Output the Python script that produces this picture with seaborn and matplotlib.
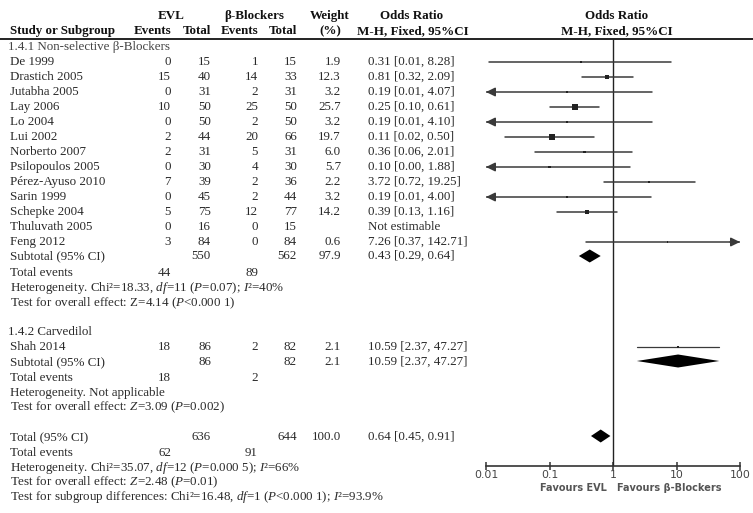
import numpy as np
import pandas as pd
import matplotlib
matplotlib.use('Agg')
import matplotlib.pyplot as plt
import seaborn as sns

sns.set_theme(style='white')
plt.rcParams.update({
    'font.family': ['Liberation Serif', 'DejaVu Serif'],
    'mathtext.fontset': 'custom',
    'mathtext.rm': 'Liberation Serif',
    'mathtext.it': 'Liberation Serif:italic',
    'mathtext.bf': 'Liberation Serif:bold',
})

# ---- data ----
studies = ['De 1999', 'Drastich 2005', 'Jutabha 2005', 'Lay 2006', 'Lo 2004', 'Lui 2002',
           'Norberto 2007', 'Psilopoulos 2005', 'Pérez-Ayuso 2010', 'Sarin 1999',
           'Schepke 2004', 'Thuluvath 2005', 'Feng 2012']
evl_events = [0, 15, 0, 10, 0, 2, 2, 0, 7, 0, 5, 0, 3]
evl_total = [15, 40, 31, 50, 50, 44, 31, 30, 39, 45, 75, 16, 84]
bb_events = [1, 14, 2, 25, 2, 20, 5, 4, 2, 2, 12, 0, 0]
bb_total = [15, 33, 31, 50, 50, 66, 31, 30, 36, 44, 77, 15, 84]
weights = [1.9, 12.3, 3.2, 25.7, 3.2, 19.7, 6.0, 5.7, 2.2, 3.2, 14.2, np.nan, 0.6]
odds = [0.31, 0.81, 0.19, 0.25, 0.19, 0.11, 0.36, 0.10, 3.72, 0.19, 0.39, np.nan, 7.26]
ci_low = [0.01, 0.32, 0.01, 0.10, 0.01, 0.02, 0.06, 0.00, 0.72, 0.01, 0.13, np.nan, 0.37]
ci_high = [8.28, 2.09, 4.07, 0.61, 4.10, 0.50, 2.01, 1.88, 19.25, 4.00, 1.16, np.nan, 142.71]
# lower ends as drawn (the rounded 0.01 ones that run off the left edge)
ci_low_drawn = [0.011, 0.32, 0.009, 0.10, 0.009, 0.02, 0.06, 0.004, 0.72, 0.009, 0.13, np.nan, 0.37]

sub1 = dict(evl_total=550, bb_total=562, weight=97.9, odds=0.43, lo=0.29, hi=0.64,
            evl_ev=44, bb_ev=89)
shah = dict(name='Shah 2014', evl_ev=18, evl_total=86, bb_ev=2, bb_total=82, weight=2.1,
            odds=10.59, lo=2.37, hi=47.27)
sub2 = dict(evl_total=86, bb_total=82, weight=2.1, odds=10.59, lo=2.37, hi=47.27,
            evl_ev=18, bb_ev=2)
total = dict(evl_total=636, bb_total=644, weight=100.0, odds=0.64, lo=0.45, hi=0.91,
             evl_ev=62, bb_ev=91)
xticks = [0.01, 0.1, 1, 10, 100]
xtick_labels = ['0.01', '0.1', '1', '10', '100']

df = pd.DataFrame({'study': studies, 'evl_ev': evl_events, 'evl_tot': evl_total,
                   'bb_ev': bb_events, 'bb_tot': bb_total, 'w': weights,
                   'or': odds, 'lo': ci_low, 'hi': ci_high, 'lo_d': ci_low_drawn})

# ---- layout (pixels) ----
W, H = 753, 513
row0, step = 62, 15
df['y'] = row0 + step * np.arange(len(df))
x_ev1, x_tot1, x_ev2, x_tot2, x_w, x_or = 171, 211, 258, 297, 341, 368
txt = '#2a2a2a'
fs = 9.4

fig = plt.figure(figsize=(W / 100, H / 100), dpi=100)
at = fig.add_axes([0, 0, 1, 1])
at.set_xlim(0, W)
at.set_ylim(H, 0)
at.axis('off')


def t(x, y, s, ha='left', **kw):
    kw.setdefault('color', txt)
    kw.setdefault('fontsize', fs)
    at.text(x, y, s, ha=ha, va='center', **kw)


# header
hb = dict(fontweight='bold', color='#111111')
t(171, 16, 'EVL', 'center', **hb)
t(254, 16, 'β-Blockers', 'center', **hb)
t(330, 16, 'Weight', 'center', **hb)
t(412, 16, 'Odds Ratio', 'center', **hb)
t(617, 16, 'Odds Ratio', 'center', **hb)
t(10, 31, 'Study or Subgroup', **hb)
t(x_ev1, 31, 'Events', 'right', **hb)
t(x_tot1, 31, 'Total', 'right', **hb)
t(x_ev2, 31, 'Events', 'right', **hb)
t(x_tot2, 31, 'Total', 'right', **hb)
t(330, 31, '(%)', 'center', **hb)
t(413, 31, 'M-H, Fixed, 95%CI', 'center', **hb)
t(617, 31, 'M-H, Fixed, 95%CI', 'center', **hb)
at.plot([0, W], [39, 39], color='#222222', lw=1.4)

t(8, 47, '1.4.1 Non-selective β-Blockers', color='#444444')
for _, r in df.iterrows():
    y = r['y']
    t(10, y, r['study'])
    t(x_ev1, y, f"{r['evl_ev']}", 'right')
    t(x_tot1, y, f"{r['evl_tot']}", 'right')
    t(x_ev2, y, f"{r['bb_ev']}", 'right')
    t(x_tot2, y, f"{r['bb_tot']}", 'right')
    if np.isnan(r['or']):
        t(x_or, y, 'Not estimable')
    else:
        t(x_w, y, f"{r['w']:.1f}", 'right')
        t(x_or, y, f"{r['or']:.2f} [{r['lo']:.2f}, {r['hi']:.2f}]")


def summary(y, d, label, ev_y=None):
    t(10, y, label)
    t(x_tot1, y, f"{d['evl_total']}", 'right')
    t(x_tot2, y, f"{d['bb_total']}", 'right')
    t(x_w, y, f"{d['weight']:.1f}", 'right')
    t(x_or, y, f"{d['odds']:.2f} [{d['lo']:.2f}, {d['hi']:.2f}]")
    if ev_y is not None:
        t(10, ev_y, 'Total events')
        t(x_ev1, ev_y, f"{d['evl_ev']}", 'right')
        t(x_ev2, ev_y, f"{d['bb_ev']}", 'right')


summary(256, sub1, 'Subtotal (95% CI)', 273)
t(10, 288, r'Heterogeneity. Chi²=18.33, $\mathit{df}$=11 ($\mathit{P}$=0.07); $\mathit{I}$²=40%')
t(10, 303, r'Test for overall effect: Z=4.14 ($\mathit{P}$<0.000 1)')

t(8, 332, '1.4.2 Carvedilol')
t(10, 347, shah['name'])
t(x_ev1, 347, f"{shah['evl_ev']}", 'right')
t(x_tot1, 347, f"{shah['evl_total']}", 'right')
t(x_ev2, 347, f"{shah['bb_ev']}", 'right')
t(x_tot2, 347, f"{shah['bb_total']}", 'right')
t(x_w, 347, f"{shah['weight']:.1f}", 'right')
t(x_or, 347, f"{shah['odds']:.2f} [{shah['lo']:.2f}, {shah['hi']:.2f}]")
summary(362, sub2, 'Subtotal (95% CI)', 378)
t(10, 393, 'Heterogeneity. Not applicable')
t(10, 407, r'Test for overall effect: $\mathit{Z}$=3.09 ($\mathit{P}$=0.002)')

summary(437, total, 'Total (95% CI)', 453)
t(10, 468, r'Heterogeneity. Chi²=35.07, $\mathit{df}$=12 ($\mathit{P}$=0.000 5); $\mathit{I}$²=66%')
t(10, 482, r'Test for overall effect: $\mathit{Z}$=2.48 ($\mathit{P}$=0.01)')
t(10, 497, r'Test for subgroup differences: Chi²=16.48, $\mathit{df}$=1 ($\mathit{P}$<0.000 1); $\mathit{I}$²=93.9%')

# ---- forest panel ----
x0, x1, ytop, ybot = 486, 740, 39, 466
ax = fig.add_axes([x0 / W, (H - ybot) / H, (x1 - x0) / W, (ybot - ytop) / H])
ax.patch.set_alpha(0)
ax.set_xscale('log')
ax.set_xlim(0.01, 100)
ax.set_ylim(ybot, ytop)
line_c = '#3a3a3a'

ax.axvline(1, color='#222222', lw=1.0, zorder=1)

est = df.dropna(subset=['or'])
for _, r in est.iterrows():
    lo_d = max(r['lo_d'], 0.01)
    hi_d = min(r['hi'], 100)
    ax.plot([lo_d, hi_d], [r['y'], r['y']], color=line_c, lw=1.1, zorder=2)
    if r['lo_d'] < 0.01:
        ax.annotate('', xy=(0.01, r['y']), xytext=(0.014, r['y']),
                    arrowprops=dict(arrowstyle='-|>,head_length=0.45,head_width=0.22',
                                    color=line_c, lw=1.1, shrinkA=0, shrinkB=0))
    if r['hi'] > 100:
        ax.annotate('', xy=(100, r['y']), xytext=(70, r['y']),
                    arrowprops=dict(arrowstyle='-|>,head_length=0.45,head_width=0.22',
                                    color=line_c, lw=1.1, shrinkA=0, shrinkB=0))

side_px = np.maximum(1.2 * np.sqrt(est['w'].values), 1.5)
sns.scatterplot(x=est['or'].values, y=est['y'].values, s=(side_px * 0.72) ** 2,
                marker='s', color='#222222', edgecolor='none', ax=ax, legend=False, zorder=3)

# Shah 2014
ax.plot([shah['lo'], shah['hi']], [347, 347], color=line_c, lw=0.9, zorder=2)
sns.scatterplot(x=[shah['odds']], y=[347], s=(1.2 * np.sqrt(shah['weight']) * 0.72) ** 2,
                marker='s', color='#222222', edgecolor='none', ax=ax, legend=False, zorder=3)


def diamond(d, y, h=6.5):
    ax.fill([d['lo'], d['odds'], d['hi'], d['odds']], [y, y - h, y, y + h],
            color='black', lw=0, zorder=4)


diamond(sub1, 256)
diamond(sub2, 361)
diamond(total, 436)

for s in ['top', 'left', 'right']:
    ax.spines[s].set_visible(False)
ax.spines['bottom'].set_color('#333333')
ax.spines['bottom'].set_linewidth(1.2)
ax.set_yticks([])
ax.set_xticks(xticks)
ax.set_xticklabels(xtick_labels, fontfamily='DejaVu Sans', fontsize=7.8, color='#444444')
ax.minorticks_off()
ax.tick_params(axis='x', direction='inout', length=6, width=1.1, color='#333333', pad=0,
               bottom=True)

fav = dict(fontfamily='DejaVu Sans', fontsize=7, fontweight='bold', color='#555555')
t(607, 488, 'Favours EVL', 'right', **fav)
t(617, 488, 'Favours β-Blockers', 'left', **fav)

fig.savefig('out.png', dpi=100)
